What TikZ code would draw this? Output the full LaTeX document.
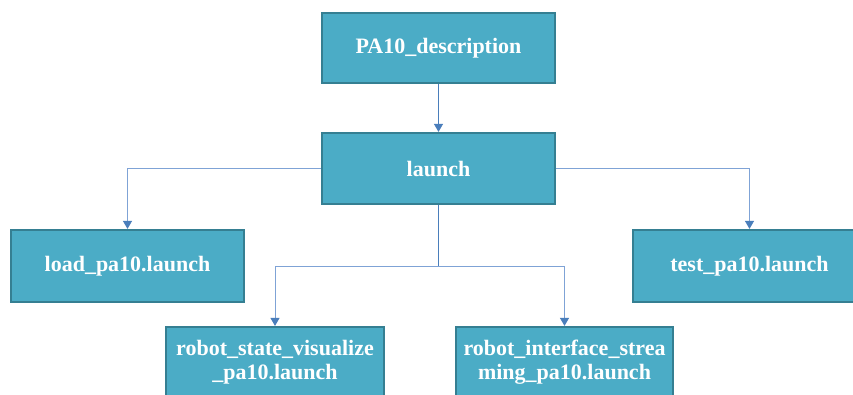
\documentclass[tikz,border=0pt]{standalone}
\usepackage{fontspec}
\setmainfont{Liberation Serif}
\usetikzlibrary{arrows.meta}
\definecolor{boxfill}{HTML}{4BACC6}
\definecolor{boxline}{HTML}{357F92}
\definecolor{conn}{HTML}{7FA3D6}
\definecolor{tip}{HTML}{4A7EBB}
\begin{document}
\begin{tikzpicture}[x=1pt,y=-1pt,
  box/.style={draw=boxline, line width=2.2pt, fill=boxfill, text=white,
    font=\fontsize{22}{24}\selectfont\bfseries, align=center,
    minimum width=233pt, minimum height=70pt, inner sep=0pt},
  conline/.style={draw=conn, line width=0.9pt},
  arr/.style={conline, -{Triangle[width=9pt,length=8pt,color=tip]}}]
\clip (0,0) rectangle (853,394);
\fill[white] (0,0) rectangle (853,394);
\node[box] (pa) at (438.5,48) {PA10\_description};
\node[box, minimum height=71pt] (la) at (438.5,168.5) {launch};
\node[box, minimum height=72pt] (lo) at (127.5,266) {load\_pa10.launch};
\node[box, minimum height=72pt] (te) at (749.5,266) {test\_pa10.launch};
\node[box, minimum width=218pt] (rs) at (275,362) {robot\_state\_visualize\\\_pa10.launch};
\node[box, minimum width=217pt] (ri) at (564.5,362) {robot\_interface\_strea\\ming\_pa10.launch};
\coordinate (j) at (438.5,266);
\draw[arr, draw=tip] (pa.south) -- (la.north);
\draw[arr] (la.west) -| (lo.north);
\draw[arr] (la.east) -| (te.north);
\draw[conline, draw=tip] (la.south) -- (j);
\draw[arr] (j) -| (rs.north);
\draw[arr] (j) -| (ri.north);
\end{tikzpicture}
\end{document}
